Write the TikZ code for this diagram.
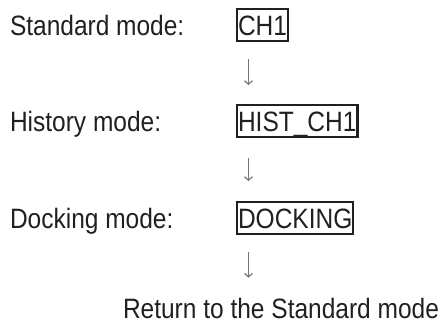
\documentclass[tikz,border=0pt]{standalone}
\usepackage{fontspec}
\setmainfont[FakeStretch=0.875]{Liberation Sans}
\usetikzlibrary{arrows.meta}
\definecolor{inkBlack}{HTML}{231F20}
\definecolor{arrowGray}{HTML}{767676}
\tikzset{
    MODE_LABEL/.style={inner sep=0mm, outer sep=0mm, anchor=base west,
        text=inkBlack, font={\fontsize{28}{30}\selectfont}},
    MODE_BOX/.style={MODE_LABEL, draw=inkBlack, line width=2.3pt,
        inner xsep=1pt, inner ysep=0pt, text height=26pt, text depth=6pt},
    FLOW_ARROW/.style={draw=arrowGray, line width=1.5pt,
        -{Straight Barb[length=3.5pt, width=8pt, line width=1.2pt]}}
}

\begin{document}
\begin{tikzpicture}[x=1pt, y=-1pt]
    \useasboundingbox (0,0) rectangle (444,324);
    \coordinate (axis) at (248.5,0);
    \node [MODE_LABEL] (1) at (10,35) {Standard mode:};
    \node [MODE_BOX] (2) at (237,35) {CH1};
    \node [MODE_LABEL] (3) at (10,131) {History mode:};
    \node [MODE_BOX] (4) at (237,131) {HIST\_CH1};
    \node [MODE_LABEL] (5) at (10,228) {Docking mode:};
    \node [MODE_BOX] (6) at (237,228) {DOCKING};
    \node [MODE_LABEL] (7) at (123,318) {Return to the Standard mode};
    \draw[FLOW_ARROW, shorten <=18pt, shorten >=20pt] (2.south -| axis) to (4.north -| axis);
    \draw[FLOW_ARROW, shorten <=21pt, shorten >=21pt] (4.south -| axis) to (6.north -| axis);
    \draw[FLOW_ARROW, shorten <=18pt, shorten >=20pt] (6.south -| axis) to (7.north -| axis);
\end{tikzpicture}
\end{document}
